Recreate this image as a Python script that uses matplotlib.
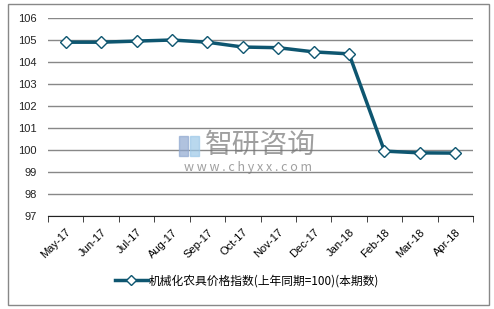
import numpy as np
import matplotlib.pyplot as plt
from matplotlib.patches import Rectangle

plt.rcParams['font.family'] = ['Noto Sans CJK SC', 'DejaVu Sans']

# dades
mesos = ['May-17', 'Jun-17', 'Jul-17', 'Aug-17', 'Sep-17', 'Oct-17',
         'Nov-17', 'Dec-17', 'Jan-18', 'Feb-18', 'Mar-18', 'Apr-18']
valors = [104.9, 104.9, 104.95, 105.0, 104.9, 104.68,
          104.65, 104.46, 104.37, 99.95, 99.87, 99.86]
etiqueta = '机械化农具价格指数(上年同期=100)(本期数)'

color = '#0E5670'

fig = plt.figure(figsize=(4.94, 3.09), dpi=100)
fig.patches.append(Rectangle((8/494, 4/309), 481/494, 301/309, transform=fig.transFigure,
                             fill=False, edgecolor='#888888', linewidth=1))
ax = fig.add_axes([48/494, 1-216/309, 425/494, 198/309])

x = np.arange(len(mesos))
ax.plot(x, valors, color=color, linewidth=2.5, marker='D', markersize=6.5,
        markerfacecolor='white', markeredgecolor=color, markeredgewidth=1, label=etiqueta)

ax.set_xlim(-0.5, len(mesos) - 0.5)
ax.set_ylim(97, 106)
ax.set_yticks(range(97, 107))
ax.yaxis.grid(True, color='#888888', linewidth=1)
ax.set_axisbelow(True)
ax.tick_params(axis='y', length=0, labelsize=8, colors='#222222', pad=8)

ax.set_xticks(x)
ax.set_xticklabels(mesos, rotation=45, ha='right', rotation_mode='anchor', fontsize=8,
                   family='Liberation Sans')
ax.set_xticks(np.arange(-0.5, len(mesos)), minor=True)
ax.tick_params(axis='x', which='major', length=0, pad=8)
ax.tick_params(axis='x', which='minor', length=4, color='#222222')
for label in ax.get_yticklabels():
    label.set_family('Liberation Sans')

for s in ['left', 'right', 'top']:
    ax.spines[s].set_visible(False)
ax.spines['bottom'].set_color('#222222')

# marca d'aigua
fig.patches.append(Rectangle((179/494, 1-156/309), 9/494, 20/309, transform=fig.transFigure,
                             color='#8FA8D0', alpha=0.7))
fig.patches.append(Rectangle((190/494, 1-156/309), 9/494, 20/309, transform=fig.transFigure,
                             color='#9CC8E8', alpha=0.7))
fig.text(0.528, 0.53, '智研咨询', fontsize=20, color='#777777', alpha=0.7, ha='center', va='center')
fig.text(0.502, 0.458, 'w w w . c h y x x . c o m', fontsize=9, color='#777777', alpha=0.7,
         ha='center', va='center')

fig.legend(loc='center', bbox_to_anchor=(0.5, 1-281/309), frameon=False, fontsize=8.5,
           handlelength=2.8, handletextpad=0.1, markerscale=0.75)

plt.savefig('out.png', dpi=100)
